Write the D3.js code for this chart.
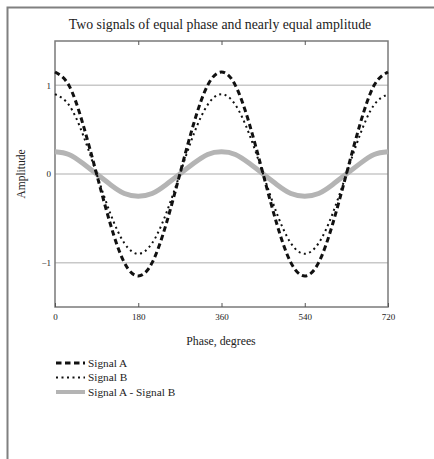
<!DOCTYPE html>
<html>
<head>
<meta charset="utf-8">
<script src="https://cdn.jsdelivr.net/npm/d3@7/dist/d3.min.js"></script>
<style>
  html, body { margin: 0; padding: 0; background: #fff; }
  svg { display: block; }
  text { font-family: "Liberation Serif", "DejaVu Serif", serif; fill: #222; }
</style>
</head>
<body>
<svg id="chart" width="434" height="459"></svg>
<script>
// Phase samples (degrees) and readings of each waveform
const phase = [0, 30, 60, 90, 120, 150, 180, 210, 240, 270, 300, 330, 360,
               390, 420, 450, 480, 510, 540, 570, 600, 630, 660, 690, 720];
const signalA = [1.15, 1.0, 0.57, 0, -0.57, -1.0, -1.15, -1.0, -0.57, 0, 0.57, 1.0, 1.15,
                 1.0, 0.57, 0, -0.57, -1.0, -1.15, -1.0, -0.57, 0, 0.57, 1.0, 1.15];
const signalB = [0.9, 0.78, 0.45, 0, -0.45, -0.78, -0.9, -0.78, -0.45, 0, 0.45, 0.78, 0.9,
                 0.78, 0.45, 0, -0.45, -0.78, -0.9, -0.78, -0.45, 0, 0.45, 0.78, 0.9];
const signalDiff = [0.25, 0.22, 0.12, 0, -0.12, -0.22, -0.25, -0.22, -0.12, 0, 0.12, 0.22, 0.25,
                    0.22, 0.12, 0, -0.12, -0.22, -0.25, -0.22, -0.12, 0, 0.12, 0.22, 0.25];
const xTicks = [0, 180, 360, 540, 720];
const yTicks = [-1, 0, 1];
const seriesNames = ["Signal A", "Signal B", "Signal A - Signal B"];

const svg = d3.select("#chart");

// outer frame (left and top edges)
svg.append("path")
  .attr("d", "M7.5,459 V7.5 H434")
  .attr("fill", "none").attr("stroke", "#808080").attr("stroke-width", 2);

const x = d3.scaleLinear().domain([0, 720]).range([55, 388]);
const y = d3.scaleLinear().domain([-1.5, 1.5]).range([307, 41]);

// title
svg.append("text").attr("x", 220).attr("y", 29)
  .attr("text-anchor", "middle").attr("font-size", 13.8)
  .text("Two signals of equal phase and nearly equal amplitude");

// horizontal gridlines
svg.append("g").selectAll("line").data(yTicks).join("line")
  .attr("x1", x(0)).attr("x2", x(720))
  .attr("y1", d => y(d)).attr("y2", d => y(d))
  .attr("stroke", "#c8c8c8").attr("stroke-width", 1.5);

// plot box
svg.append("rect")
  .attr("x", x(0)).attr("y", y(1.5))
  .attr("width", x(720) - x(0)).attr("height", y(-1.5) - y(1.5))
  .attr("fill", "none").attr("stroke", "#7a7a7a").attr("stroke-width", 1.5);

// x axis (bottom) with inward ticks
const xAxis = svg.append("g").attr("transform", `translate(0,${y(-1.5)})`)
  .call(d3.axisBottom(x).tickValues(xTicks).tickSizeInner(-4).tickSizeOuter(0).tickPadding(7));
xAxis.select(".domain").remove();
xAxis.selectAll(".tick line").attr("stroke", "#555");
xAxis.selectAll("text").attr("font-size", 9).attr("fill", "#333")
  .style("font-family", "Liberation Serif, serif");

// top ticks
svg.append("g").attr("transform", `translate(0,${y(1.5)})`)
  .call(d3.axisTop(x).tickValues(xTicks.slice(1, 4)).tickSizeInner(-4).tickSizeOuter(0).tickFormat(""))
  .call(g => g.select(".domain").remove())
  .selectAll(".tick line").attr("stroke", "#555");

// y axis labels
const yAxis = svg.append("g").attr("transform", `translate(${x(0)},0)`)
  .call(d3.axisLeft(y).tickValues(yTicks).tickSize(0).tickPadding(4)
    .tickFormat(d => d < 0 ? "\u2212" + Math.abs(d) : d));
yAxis.select(".domain").remove();
yAxis.selectAll("text").attr("font-size", 9).attr("fill", "#333")
  .style("font-family", "Liberation Serif, serif");

// axis titles
svg.append("text").attr("x", 221).attr("y", 345)
  .attr("text-anchor", "middle").attr("font-size", 11.8)
  .text("Phase, degrees");
svg.append("text")
  .attr("transform", `translate(25,${y(0)}) rotate(-90)`)
  .attr("text-anchor", "middle").attr("font-size", 11.5)
  .text("Amplitude");

// series
const line = vals => d3.line()
  .x((d, i) => x(phase[i]))
  .y(d => y(d))
  .curve(d3.curveNatural)(vals);

const styles = [
  { data: signalDiff, stroke: "#b4b4b4", width: 5, dash: null },
  { data: signalB, stroke: "#111", width: 2, dash: "2,3.5" },
  { data: signalA, stroke: "#111", width: 3, dash: "5.5,3.5" }
];

const plot = svg.append("g");
styles.forEach(s => {
  plot.append("path")
    .attr("d", line(s.data))
    .attr("fill", "none")
    .attr("stroke", s.stroke)
    .attr("stroke-width", s.width)
    .attr("stroke-dasharray", s.dash);
});

// legend
const legendStyles = [styles[2], styles[1], styles[0]];
const legend = svg.append("g");
seriesNames.forEach((name, i) => {
  const yy = 363 + i * 14.5;
  const st = legendStyles[i];
  legend.append("line")
    .attr("x1", 56).attr("x2", 85).attr("y1", yy).attr("y2", yy)
    .attr("stroke", st.stroke)
    .attr("stroke-width", i === 2 ? 4 : st.width)
    .attr("stroke-dasharray", st.dash);
  legend.append("text")
    .attr("x", 88).attr("y", yy + 3.8)
    .attr("font-size", 11.3)
    .text(name);
});
</script>
</body>
</html>
